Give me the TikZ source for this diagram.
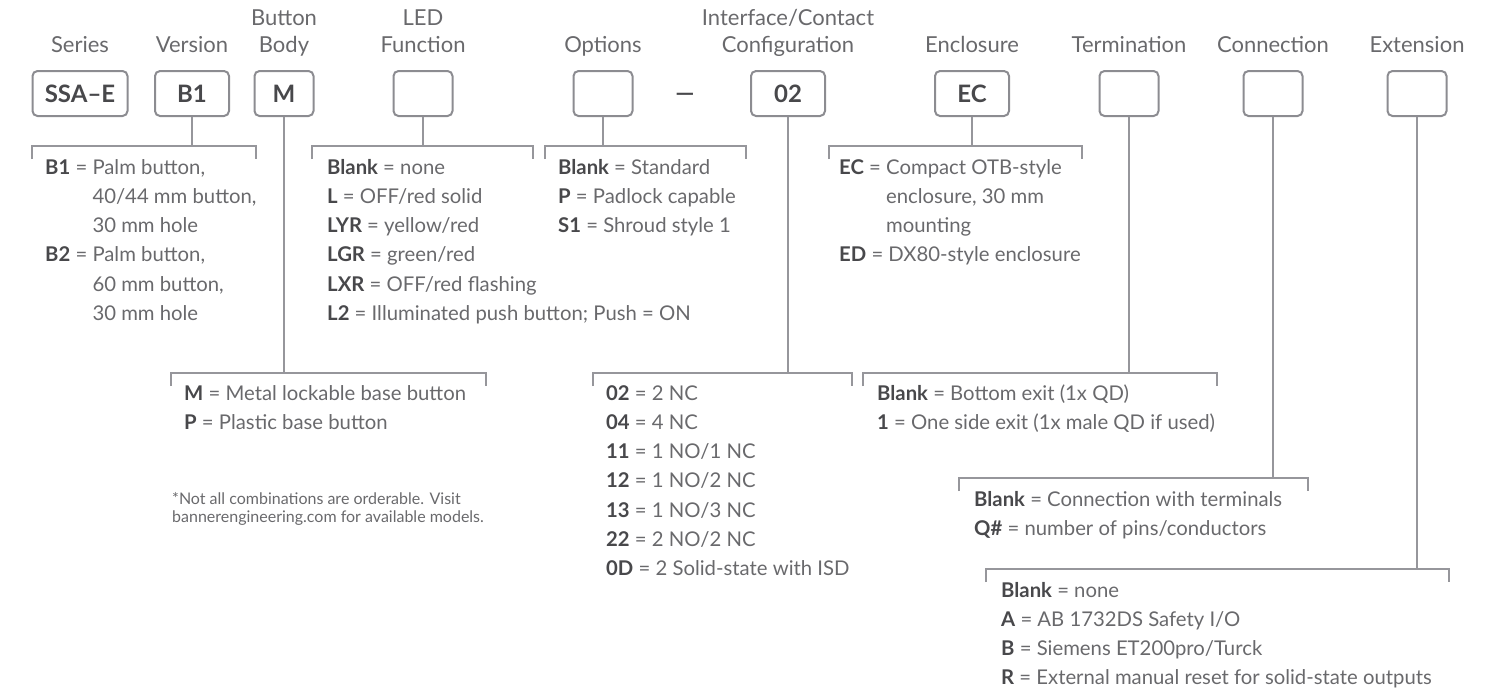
\documentclass[tikz,border=0pt]{standalone}
\usepackage{fontspec}
\setmainfont{Lato}
\usetikzlibrary{positioning}
\definecolor{txtgray}{RGB}{105,105,108}
\definecolor{codegray}{RGB}{72,72,75}
\definecolor{linegray}{RGB}{150,150,155}
\definecolor{boxgray}{RGB}{140,140,145}
\newcommand{\code}[1]{\textbf{\color{codegray}#1}}
% bracket under a stem: left x, right x, y
\newcommand{\legbracket}[3]{\draw[link] (#1,{#3+13}) |- (#2,#3) -- (#2,{#3+13});}

\begin{document}
\begin{tikzpicture}[x=1pt, y=-1pt,
  hdr/.style={font=\fontsize{22}{27}\selectfont, text=txtgray, align=center, anchor=base, inner sep=0pt},
  codebox/.style={draw=boxgray, line width=2pt, rounded corners=5pt, minimum height=45pt, minimum width=59pt, inner sep=0pt, font=\fontsize{24}{28}\selectfont\bfseries, text=codegray},
  link/.style={draw=linegray, line width=2.6pt},
  list/.style={font=\fontsize{20.3}{29.3}\selectfont, text=txtgray, align=left, anchor=base west, inner sep=0pt},
  note/.style={font=\fontsize{16}{18}\selectfont, text=txtgray, align=left, anchor=base west, inner sep=0pt}]
\useasboundingbox (0,0) rectangle (1495,691);

% === model code boxes ===
\node[codebox, minimum width=95pt] (series) at (80,93.5) {SSA–E};
\node[codebox, minimum width=74pt] (version) at (192,93.5) {B1};
\node[codebox] (body) at (284,93.5) {M};
\node[codebox] (led) at (423,93.5) {};
\node[codebox] (options) at (603,93.5) {};
\node[font=\fontsize{24}{28}\selectfont\bfseries, text=codegray, inner sep=0pt, anchor=base] (dash) at (685,101) {—};
\node[codebox, minimum width=74pt] (config) at (788,93.5) {02};
\node[codebox, minimum width=74pt] (encl) at (972,93.5) {EC};
\node[codebox] (term) at (1129,93.5) {};
\node[codebox] (conn) at (1273,93.5) {};
\node[codebox] (ext) at (1417,93.5) {};

% === headers (base = last line) ===
\node[hdr] (hseries) at (series |- 0,52) {Series};
\node[hdr] (hversion) at (version |- 0,52) {Version};
\node[hdr] (hbody) at (body |- 0,52) {Button\\Body};
\node[hdr] (hled) at (led |- 0,52) {LED\\Function};
\node[hdr] (hoptions) at (options |- 0,52) {Options};
\node[hdr] (hconfig) at (config |- 0,52) {Interface/Contact\\Configuration};
\node[hdr] (hencl) at (encl |- 0,52) {Enclosure};
\node[hdr] (hterm) at (term |- 0,52) {Termination};
\node[hdr] (hconn) at (conn |- 0,52) {Connection};
\node[hdr] (hext) at (ext |- 0,52) {Extension};

% === stems ===
\coordinate (jversion) at (192,146);
\coordinate (jled) at (423,146);
\coordinate (joptions) at (603,146);
\coordinate (jencl) at (972,146);
\coordinate (jbody) at (284,373);
\coordinate (jconfig) at (788,373);
\coordinate (jterm) at (1129,373);
\coordinate (jconn) at (1273,478);
\coordinate (jext) at (1417,569);
\foreach \b in {version,led,options,encl,body,config,term,conn,ext}
  \draw[link] (\b.south) -- (j\b);

% === brackets ===
\legbracket{32}{256}{146}
\legbracket{312}{533}{146}
\legbracket{545}{746}{146}
\legbracket{829}{1082}{146}
\legbracket{171}{486}{373}
\legbracket{593}{852}{373}
\legbracket{863}{1217}{373}
\legbracket{959}{1308}{478}
\legbracket{986}{1449}{569}

% === option lists (base = last line) ===
\node[list] (lversion) at (45,320.5) {\code{B1} = Palm button,\\
  \phantom{\code{B1} = }40/44 mm button,\\
  \phantom{\code{B1} = }30 mm hole\\
  \code{B2} = Palm button,\\
  \phantom{\code{B2} = }60 mm button,\\
  \phantom{\code{B2} = }30 mm hole};
\node[list] (lled) at (327,320.5) {\code{Blank} = none\\
  \code{L} = OFF/red solid\\
  \code{LYR} = yellow/red\\
  \code{LGR} = green/red\\
  \code{LXR} = OFF/red flashing\\
  \code{L2} = Illuminated push button; Push = ON};
\node[list] (loptions) at (558,232.6) {\code{Blank} = Standard\\
  \code{P} = Padlock capable\\
  \code{S1} = Shroud style 1};
\node[list] (lencl) at (839,261.9) {\code{EC} = Compact OTB-style\\
  \phantom{\code{EC} = }enclosure, 30 mm\\
  \phantom{\code{EC} = }mounting\\
  \code{ED} = DX80-style enclosure};
\node[list] (lbody) at (184,429.3) {\code{M} = Metal lockable base button\\
  \code{P} = Plastic base button};
\node[list] (lconfig) at (606,575.8) {\code{02} = 2 NC\\
  \code{04} = 4 NC\\
  \code{11} = 1 NO/1 NC\\
  \code{12} = 1 NO/2 NC\\
  \code{13} = 1 NO/3 NC\\
  \code{22} = 2 NO/2 NC\\
  \code{0D} = 2 Solid-state with ISD};
\node[list] (lterm) at (877,429.3) {\code{Blank} = Bottom exit (1x QD)\\
  \code{1} = One side exit (1x male QD if used)};
\node[list] (lconn) at (974,535.3) {\code{Blank} = Connection with terminals\\
  \code{Q\#} = number of pins/conductors};
\node[list] (lext) at (1001,684.9) {\code{Blank} = none\\
  \code{A} = AB 1732DS Safety I/O\\
  \code{B} = Siemens ET200pro/Turck\\
  \code{R} = External manual reset for solid-state outputs};

\node[note] (footnote) at (172,522) {*Not all combinations are orderable. Visit\\
  bannerengineering.com for available models.};

\end{tikzpicture}
\end{document}
